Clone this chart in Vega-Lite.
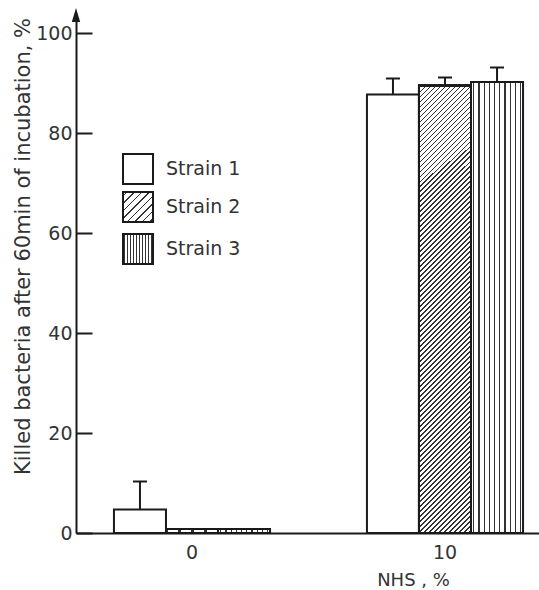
{
  "$schema": "https://vega.github.io/schema/vega-lite/v6.json",
  "autosize": {"type": "none"},
  "padding": {"left": 76, "top": 20, "right": 0, "bottom": 57},
  "width": 485,
  "height": 513,
  "background": "white",
  "config": {
    "view": {"stroke": null},
    "font": "DejaVu Sans",
    "axis": {"grid": false, "domainColor": "#1a1a1a", "domainWidth": 2, "tickColor": "#1a1a1a", "labelColor": "#333", "titleColor": "#333", "labelFont": "DejaVu Sans", "titleFont": "DejaVu Sans", "titleFontWeight": "normal"},
    "legend": {"labelFont": "DejaVu Sans", "labelColor": "#333", "labelFontSize": 19, "labelOffset": 12, "padding": 0, "symbolType": "square", "symbolSize": 900, "symbolStrokeColor": "#1a1a1a", "symbolStrokeWidth": 2, "symbolOpacity": 1}
  },
  "data": {"values": [
    {"nhs": "0", "strain": "Strain 1", "value": 4.7, "upper": 10.3},
    {"nhs": "0", "strain": "Strain 2", "value": 0.8, "upper": null},
    {"nhs": "0", "strain": "Strain 3", "value": 0.8, "upper": null},
    {"nhs": "10", "strain": "Strain 1", "value": 87.7, "upper": 90.9},
    {"nhs": "10", "strain": "Strain 2", "value": 89.5, "upper": 91.1},
    {"nhs": "10", "strain": "Strain 3", "value": 90.2, "upper": 93.1}
  ]},
  "layer": [
    {
      "encoding": {
        "x": {"field": "nhs", "type": "nominal", "scale": {"type": "band", "paddingInner": 0.383, "paddingOuter": 0.15},
          "axis": {"ticks": false, "labelAngle": 0, "labelFontSize": 19, "labelPadding": 10, "title": "NHS , %", "titleFontSize": 18, "titleX": 337, "titleY": 38}},
        "xOffset": {"field": "strain", "type": "nominal", "scale": {"domain": ["Strain 1", "Strain 2", "Strain 3"], "paddingInner": 0, "paddingOuter": 0}}
      },
      "layer": [
        {
          "transform": [{"filter": "datum.strain == 'Strain 1'"}],
          "mark": {"type": "bar", "fill": "#ffffff", "strokeWidth": 2},
          "encoding": {
            "y": {"field": "value", "type": "quantitative", "title": "Killed bacteria after 60min of incubation, %",
              "scale": {"domain": [0, 102.6], "nice": false},
              "axis": {"values": [0, 20, 40, 60, 80, 100], "tickSize": -16, "tickWidth": 2, "labelPadding": 20, "labelFontSize": 19, "titleFontSize": 21, "titleX": -47, "titleY": 226, "titleBaseline": "alphabetic", "titleAlign": "center", "titleAngle": -90}},
            "stroke": {"field": "strain", "type": "nominal", "scale": {"range": ["#1a1a1a"]},
              "legend": {"title": null, "orient": "none", "legendX": 46, "legendY": 133}}
          }
        },
        {
          "transform": [{"filter": "datum.strain == 'Strain 2' && datum.nhs == '0'"}],
          "mark": {"type": "bar", "strokeWidth": 2, "fill": {"gradient": "linear", "x1": 0, "y1": 0, "x2": 1, "y2": 1, "stops": [
            {"offset": 0, "color": "#fff"}, {"offset": 0.05, "color": "#fff"}, {"offset": 0.05, "color": "#333"}, {"offset": 0.08, "color": "#333"}, {"offset": 0.08, "color": "#fff"},
            {"offset": 0.175, "color": "#fff"}, {"offset": 0.175, "color": "#333"}, {"offset": 0.205, "color": "#333"}, {"offset": 0.205, "color": "#fff"},
            {"offset": 0.3, "color": "#fff"}, {"offset": 0.3, "color": "#333"}, {"offset": 0.33, "color": "#333"}, {"offset": 0.33, "color": "#fff"},
            {"offset": 0.425, "color": "#fff"}, {"offset": 0.425, "color": "#333"}, {"offset": 0.455, "color": "#333"}, {"offset": 0.455, "color": "#fff"},
            {"offset": 0.55, "color": "#fff"}, {"offset": 0.55, "color": "#333"}, {"offset": 0.58, "color": "#333"}, {"offset": 0.58, "color": "#fff"},
            {"offset": 0.675, "color": "#fff"}, {"offset": 0.675, "color": "#333"}, {"offset": 0.705, "color": "#333"}, {"offset": 0.705, "color": "#fff"},
            {"offset": 0.8, "color": "#fff"}, {"offset": 0.8, "color": "#333"}, {"offset": 0.83, "color": "#333"}, {"offset": 0.83, "color": "#fff"},
            {"offset": 0.925, "color": "#fff"}, {"offset": 0.925, "color": "#333"}, {"offset": 0.955, "color": "#333"}, {"offset": 0.955, "color": "#fff"},
            {"offset": 1, "color": "#fff"}
          ]}},
          "encoding": {
            "y": {"field": "value", "type": "quantitative", "title": "Killed bacteria after 60min of incubation, %"},
            "stroke": {"field": "strain", "type": "nominal", "scale": {"range": ["#1a1a1a"]},
              "legend": {"title": null, "orient": "none", "legendX": 46, "legendY": 171}}
          }
        },
        {
          "transform": [{"filter": "datum.strain == 'Strain 2' && datum.nhs == '10'"}],
          "mark": {"type": "bar", "fill": "#ffffff", "stroke": "#1a1a1a", "strokeWidth": 2},
          "encoding": {
            "y": {"field": "value", "type": "quantitative", "title": "Killed bacteria after 60min of incubation, %"}
          }
        },
        {
          "transform": [{"filter": "datum.strain == 'Strain 2' && datum.nhs == '10'"}],
          "mark": {"type": "bar", "stroke": "#1a1a1a", "strokeWidth": 2, "fill": {"gradient": "linear", "x1": 0, "y1": 0, "x2": 0.032, "y2": 0.2753, "stops": [
            {"offset":0,"color":"rgba(0,0,0,0)"},{"offset":0.013,"color":"rgba(0,0,0,0)"},{"offset":0.013,"color":"#333"},{"offset":0.027,"color":"#333"},{"offset":0.027,"color":"rgba(0,0,0,0)"},
            {"offset":0.053,"color":"rgba(0,0,0,0)"},{"offset":0.053,"color":"#333"},{"offset":0.067,"color":"#333"},{"offset":0.067,"color":"rgba(0,0,0,0)"},
            {"offset":0.093,"color":"rgba(0,0,0,0)"},{"offset":0.093,"color":"#333"},{"offset":0.107,"color":"#333"},{"offset":0.107,"color":"rgba(0,0,0,0)"},
            {"offset":0.133,"color":"rgba(0,0,0,0)"},{"offset":0.133,"color":"#333"},{"offset":0.147,"color":"#333"},{"offset":0.147,"color":"rgba(0,0,0,0)"},
            {"offset":0.173,"color":"rgba(0,0,0,0)"},{"offset":0.173,"color":"#333"},{"offset":0.187,"color":"#333"},{"offset":0.187,"color":"rgba(0,0,0,0)"},
            {"offset":0.213,"color":"rgba(0,0,0,0)"},{"offset":0.213,"color":"#333"},{"offset":0.227,"color":"#333"},{"offset":0.227,"color":"rgba(0,0,0,0)"},
            {"offset":0.253,"color":"rgba(0,0,0,0)"},{"offset":0.253,"color":"#333"},{"offset":0.267,"color":"#333"},{"offset":0.267,"color":"rgba(0,0,0,0)"},
            {"offset":0.293,"color":"rgba(0,0,0,0)"},{"offset":0.293,"color":"#333"},{"offset":0.307,"color":"#333"},{"offset":0.307,"color":"rgba(0,0,0,0)"},
            {"offset":0.333,"color":"rgba(0,0,0,0)"},{"offset":0.333,"color":"#333"},{"offset":0.347,"color":"#333"},{"offset":0.347,"color":"rgba(0,0,0,0)"},
            {"offset":0.373,"color":"rgba(0,0,0,0)"},{"offset":0.373,"color":"#333"},{"offset":0.387,"color":"#333"},{"offset":0.387,"color":"rgba(0,0,0,0)"},
            {"offset":0.413,"color":"rgba(0,0,0,0)"},{"offset":0.413,"color":"#333"},{"offset":0.427,"color":"#333"},{"offset":0.427,"color":"rgba(0,0,0,0)"},
            {"offset":0.453,"color":"rgba(0,0,0,0)"},{"offset":0.453,"color":"#333"},{"offset":0.467,"color":"#333"},{"offset":0.467,"color":"rgba(0,0,0,0)"},
            {"offset":0.493,"color":"rgba(0,0,0,0)"},{"offset":0.493,"color":"#333"},{"offset":0.507,"color":"#333"},{"offset":0.507,"color":"rgba(0,0,0,0)"},
            {"offset":0.533,"color":"rgba(0,0,0,0)"},{"offset":0.533,"color":"#333"},{"offset":0.547,"color":"#333"},{"offset":0.547,"color":"rgba(0,0,0,0)"},
            {"offset":0.573,"color":"rgba(0,0,0,0)"},{"offset":0.573,"color":"#333"},{"offset":0.587,"color":"#333"},{"offset":0.587,"color":"rgba(0,0,0,0)"},
            {"offset":0.613,"color":"rgba(0,0,0,0)"},{"offset":0.613,"color":"#333"},{"offset":0.627,"color":"#333"},{"offset":0.627,"color":"rgba(0,0,0,0)"},
            {"offset":0.653,"color":"rgba(0,0,0,0)"},{"offset":0.653,"color":"#333"},{"offset":0.667,"color":"#333"},{"offset":0.667,"color":"rgba(0,0,0,0)"},
            {"offset":0.693,"color":"rgba(0,0,0,0)"},{"offset":0.693,"color":"#333"},{"offset":0.707,"color":"#333"},{"offset":0.707,"color":"rgba(0,0,0,0)"},
            {"offset":0.733,"color":"rgba(0,0,0,0)"},{"offset":0.733,"color":"#333"},{"offset":0.747,"color":"#333"},{"offset":0.747,"color":"rgba(0,0,0,0)"},
            {"offset":0.773,"color":"rgba(0,0,0,0)"},{"offset":0.773,"color":"#333"},{"offset":0.787,"color":"#333"},{"offset":0.787,"color":"rgba(0,0,0,0)"},
            {"offset":0.813,"color":"rgba(0,0,0,0)"},{"offset":0.813,"color":"#333"},{"offset":0.827,"color":"#333"},{"offset":0.827,"color":"rgba(0,0,0,0)"},
            {"offset":0.853,"color":"rgba(0,0,0,0)"},{"offset":0.853,"color":"#333"},{"offset":0.867,"color":"#333"},{"offset":0.867,"color":"rgba(0,0,0,0)"},
            {"offset":0.893,"color":"rgba(0,0,0,0)"},{"offset":0.893,"color":"#333"},{"offset":0.907,"color":"#333"},{"offset":0.907,"color":"rgba(0,0,0,0)"},
            {"offset":0.933,"color":"rgba(0,0,0,0)"},{"offset":0.933,"color":"#333"},{"offset":0.947,"color":"#333"},{"offset":0.947,"color":"rgba(0,0,0,0)"},
            {"offset":0.973,"color":"rgba(0,0,0,0)"},{"offset":0.973,"color":"#333"},{"offset":0.987,"color":"#333"},{"offset":0.987,"color":"rgba(0,0,0,0)"},
            {"offset":1,"color":"rgba(0,0,0,0)"}
          ]}},
          "encoding": {
            "y": {"field": "value", "type": "quantitative", "title": "Killed bacteria after 60min of incubation, %"}
          }
        },
        {
          "transform": [{"filter": "datum.strain == 'Strain 2' && datum.nhs == '10'"}],
          "mark": {"type": "bar", "stroke": "#1a1a1a", "strokeWidth": 2, "fill": {"gradient": "linear", "x1": 0.032, "y1": 0.2753, "x2": 0.064, "y2": 0.5507, "stops": [
            {"offset":0,"color":"rgba(0,0,0,0)"},{"offset":0.013,"color":"rgba(0,0,0,0)"},{"offset":0.013,"color":"#333"},{"offset":0.027,"color":"#333"},{"offset":0.027,"color":"rgba(0,0,0,0)"},
            {"offset":0.053,"color":"rgba(0,0,0,0)"},{"offset":0.053,"color":"#333"},{"offset":0.067,"color":"#333"},{"offset":0.067,"color":"rgba(0,0,0,0)"},
            {"offset":0.093,"color":"rgba(0,0,0,0)"},{"offset":0.093,"color":"#333"},{"offset":0.107,"color":"#333"},{"offset":0.107,"color":"rgba(0,0,0,0)"},
            {"offset":0.133,"color":"rgba(0,0,0,0)"},{"offset":0.133,"color":"#333"},{"offset":0.147,"color":"#333"},{"offset":0.147,"color":"rgba(0,0,0,0)"},
            {"offset":0.173,"color":"rgba(0,0,0,0)"},{"offset":0.173,"color":"#333"},{"offset":0.187,"color":"#333"},{"offset":0.187,"color":"rgba(0,0,0,0)"},
            {"offset":0.213,"color":"rgba(0,0,0,0)"},{"offset":0.213,"color":"#333"},{"offset":0.227,"color":"#333"},{"offset":0.227,"color":"rgba(0,0,0,0)"},
            {"offset":0.253,"color":"rgba(0,0,0,0)"},{"offset":0.253,"color":"#333"},{"offset":0.267,"color":"#333"},{"offset":0.267,"color":"rgba(0,0,0,0)"},
            {"offset":0.293,"color":"rgba(0,0,0,0)"},{"offset":0.293,"color":"#333"},{"offset":0.307,"color":"#333"},{"offset":0.307,"color":"rgba(0,0,0,0)"},
            {"offset":0.333,"color":"rgba(0,0,0,0)"},{"offset":0.333,"color":"#333"},{"offset":0.347,"color":"#333"},{"offset":0.347,"color":"rgba(0,0,0,0)"},
            {"offset":0.373,"color":"rgba(0,0,0,0)"},{"offset":0.373,"color":"#333"},{"offset":0.387,"color":"#333"},{"offset":0.387,"color":"rgba(0,0,0,0)"},
            {"offset":0.413,"color":"rgba(0,0,0,0)"},{"offset":0.413,"color":"#333"},{"offset":0.427,"color":"#333"},{"offset":0.427,"color":"rgba(0,0,0,0)"},
            {"offset":0.453,"color":"rgba(0,0,0,0)"},{"offset":0.453,"color":"#333"},{"offset":0.467,"color":"#333"},{"offset":0.467,"color":"rgba(0,0,0,0)"},
            {"offset":0.493,"color":"rgba(0,0,0,0)"},{"offset":0.493,"color":"#333"},{"offset":0.507,"color":"#333"},{"offset":0.507,"color":"rgba(0,0,0,0)"},
            {"offset":0.533,"color":"rgba(0,0,0,0)"},{"offset":0.533,"color":"#333"},{"offset":0.547,"color":"#333"},{"offset":0.547,"color":"rgba(0,0,0,0)"},
            {"offset":0.573,"color":"rgba(0,0,0,0)"},{"offset":0.573,"color":"#333"},{"offset":0.587,"color":"#333"},{"offset":0.587,"color":"rgba(0,0,0,0)"},
            {"offset":0.613,"color":"rgba(0,0,0,0)"},{"offset":0.613,"color":"#333"},{"offset":0.627,"color":"#333"},{"offset":0.627,"color":"rgba(0,0,0,0)"},
            {"offset":0.653,"color":"rgba(0,0,0,0)"},{"offset":0.653,"color":"#333"},{"offset":0.667,"color":"#333"},{"offset":0.667,"color":"rgba(0,0,0,0)"},
            {"offset":0.693,"color":"rgba(0,0,0,0)"},{"offset":0.693,"color":"#333"},{"offset":0.707,"color":"#333"},{"offset":0.707,"color":"rgba(0,0,0,0)"},
            {"offset":0.733,"color":"rgba(0,0,0,0)"},{"offset":0.733,"color":"#333"},{"offset":0.747,"color":"#333"},{"offset":0.747,"color":"rgba(0,0,0,0)"},
            {"offset":0.773,"color":"rgba(0,0,0,0)"},{"offset":0.773,"color":"#333"},{"offset":0.787,"color":"#333"},{"offset":0.787,"color":"rgba(0,0,0,0)"},
            {"offset":0.813,"color":"rgba(0,0,0,0)"},{"offset":0.813,"color":"#333"},{"offset":0.827,"color":"#333"},{"offset":0.827,"color":"rgba(0,0,0,0)"},
            {"offset":0.853,"color":"rgba(0,0,0,0)"},{"offset":0.853,"color":"#333"},{"offset":0.867,"color":"#333"},{"offset":0.867,"color":"rgba(0,0,0,0)"},
            {"offset":0.893,"color":"rgba(0,0,0,0)"},{"offset":0.893,"color":"#333"},{"offset":0.907,"color":"#333"},{"offset":0.907,"color":"rgba(0,0,0,0)"},
            {"offset":0.933,"color":"rgba(0,0,0,0)"},{"offset":0.933,"color":"#333"},{"offset":0.947,"color":"#333"},{"offset":0.947,"color":"rgba(0,0,0,0)"},
            {"offset":0.973,"color":"rgba(0,0,0,0)"},{"offset":0.973,"color":"#333"},{"offset":0.987,"color":"#333"},{"offset":0.987,"color":"rgba(0,0,0,0)"},
            {"offset":1,"color":"rgba(0,0,0,0)"}
          ]}},
          "encoding": {
            "y": {"field": "value", "type": "quantitative", "title": "Killed bacteria after 60min of incubation, %"}
          }
        },
        {
          "transform": [{"filter": "datum.strain == 'Strain 2' && datum.nhs == '10'"}],
          "mark": {"type": "bar", "stroke": "#1a1a1a", "strokeWidth": 2, "fill": {"gradient": "linear", "x1": 0.064, "y1": 0.5507, "x2": 0.096, "y2": 0.826, "stops": [
            {"offset":0,"color":"rgba(0,0,0,0)"},{"offset":0.013,"color":"rgba(0,0,0,0)"},{"offset":0.013,"color":"#333"},{"offset":0.027,"color":"#333"},{"offset":0.027,"color":"rgba(0,0,0,0)"},
            {"offset":0.053,"color":"rgba(0,0,0,0)"},{"offset":0.053,"color":"#333"},{"offset":0.067,"color":"#333"},{"offset":0.067,"color":"rgba(0,0,0,0)"},
            {"offset":0.093,"color":"rgba(0,0,0,0)"},{"offset":0.093,"color":"#333"},{"offset":0.107,"color":"#333"},{"offset":0.107,"color":"rgba(0,0,0,0)"},
            {"offset":0.133,"color":"rgba(0,0,0,0)"},{"offset":0.133,"color":"#333"},{"offset":0.147,"color":"#333"},{"offset":0.147,"color":"rgba(0,0,0,0)"},
            {"offset":0.173,"color":"rgba(0,0,0,0)"},{"offset":0.173,"color":"#333"},{"offset":0.187,"color":"#333"},{"offset":0.187,"color":"rgba(0,0,0,0)"},
            {"offset":0.213,"color":"rgba(0,0,0,0)"},{"offset":0.213,"color":"#333"},{"offset":0.227,"color":"#333"},{"offset":0.227,"color":"rgba(0,0,0,0)"},
            {"offset":0.253,"color":"rgba(0,0,0,0)"},{"offset":0.253,"color":"#333"},{"offset":0.267,"color":"#333"},{"offset":0.267,"color":"rgba(0,0,0,0)"},
            {"offset":0.293,"color":"rgba(0,0,0,0)"},{"offset":0.293,"color":"#333"},{"offset":0.307,"color":"#333"},{"offset":0.307,"color":"rgba(0,0,0,0)"},
            {"offset":0.333,"color":"rgba(0,0,0,0)"},{"offset":0.333,"color":"#333"},{"offset":0.347,"color":"#333"},{"offset":0.347,"color":"rgba(0,0,0,0)"},
            {"offset":0.373,"color":"rgba(0,0,0,0)"},{"offset":0.373,"color":"#333"},{"offset":0.387,"color":"#333"},{"offset":0.387,"color":"rgba(0,0,0,0)"},
            {"offset":0.413,"color":"rgba(0,0,0,0)"},{"offset":0.413,"color":"#333"},{"offset":0.427,"color":"#333"},{"offset":0.427,"color":"rgba(0,0,0,0)"},
            {"offset":0.453,"color":"rgba(0,0,0,0)"},{"offset":0.453,"color":"#333"},{"offset":0.467,"color":"#333"},{"offset":0.467,"color":"rgba(0,0,0,0)"},
            {"offset":0.493,"color":"rgba(0,0,0,0)"},{"offset":0.493,"color":"#333"},{"offset":0.507,"color":"#333"},{"offset":0.507,"color":"rgba(0,0,0,0)"},
            {"offset":0.533,"color":"rgba(0,0,0,0)"},{"offset":0.533,"color":"#333"},{"offset":0.547,"color":"#333"},{"offset":0.547,"color":"rgba(0,0,0,0)"},
            {"offset":0.573,"color":"rgba(0,0,0,0)"},{"offset":0.573,"color":"#333"},{"offset":0.587,"color":"#333"},{"offset":0.587,"color":"rgba(0,0,0,0)"},
            {"offset":0.613,"color":"rgba(0,0,0,0)"},{"offset":0.613,"color":"#333"},{"offset":0.627,"color":"#333"},{"offset":0.627,"color":"rgba(0,0,0,0)"},
            {"offset":0.653,"color":"rgba(0,0,0,0)"},{"offset":0.653,"color":"#333"},{"offset":0.667,"color":"#333"},{"offset":0.667,"color":"rgba(0,0,0,0)"},
            {"offset":0.693,"color":"rgba(0,0,0,0)"},{"offset":0.693,"color":"#333"},{"offset":0.707,"color":"#333"},{"offset":0.707,"color":"rgba(0,0,0,0)"},
            {"offset":0.733,"color":"rgba(0,0,0,0)"},{"offset":0.733,"color":"#333"},{"offset":0.747,"color":"#333"},{"offset":0.747,"color":"rgba(0,0,0,0)"},
            {"offset":0.773,"color":"rgba(0,0,0,0)"},{"offset":0.773,"color":"#333"},{"offset":0.787,"color":"#333"},{"offset":0.787,"color":"rgba(0,0,0,0)"},
            {"offset":0.813,"color":"rgba(0,0,0,0)"},{"offset":0.813,"color":"#333"},{"offset":0.827,"color":"#333"},{"offset":0.827,"color":"rgba(0,0,0,0)"},
            {"offset":0.853,"color":"rgba(0,0,0,0)"},{"offset":0.853,"color":"#333"},{"offset":0.867,"color":"#333"},{"offset":0.867,"color":"rgba(0,0,0,0)"},
            {"offset":0.893,"color":"rgba(0,0,0,0)"},{"offset":0.893,"color":"#333"},{"offset":0.907,"color":"#333"},{"offset":0.907,"color":"rgba(0,0,0,0)"},
            {"offset":0.933,"color":"rgba(0,0,0,0)"},{"offset":0.933,"color":"#333"},{"offset":0.947,"color":"#333"},{"offset":0.947,"color":"rgba(0,0,0,0)"},
            {"offset":0.973,"color":"rgba(0,0,0,0)"},{"offset":0.973,"color":"#333"},{"offset":0.987,"color":"#333"},{"offset":0.987,"color":"rgba(0,0,0,0)"},
            {"offset":1,"color":"rgba(0,0,0,0)"}
          ]}},
          "encoding": {
            "y": {"field": "value", "type": "quantitative", "title": "Killed bacteria after 60min of incubation, %"}
          }
        },
        {
          "transform": [{"filter": "datum.strain == 'Strain 2' && datum.nhs == '10'"}],
          "mark": {"type": "bar", "stroke": "#1a1a1a", "strokeWidth": 2, "fill": {"gradient": "linear", "x1": 0.096, "y1": 0.826, "x2": 0.128, "y2": 1.1013, "stops": [
            {"offset":0,"color":"rgba(0,0,0,0)"},{"offset":0.013,"color":"rgba(0,0,0,0)"},{"offset":0.013,"color":"#333"},{"offset":0.027,"color":"#333"},{"offset":0.027,"color":"rgba(0,0,0,0)"},
            {"offset":0.053,"color":"rgba(0,0,0,0)"},{"offset":0.053,"color":"#333"},{"offset":0.067,"color":"#333"},{"offset":0.067,"color":"rgba(0,0,0,0)"},
            {"offset":0.093,"color":"rgba(0,0,0,0)"},{"offset":0.093,"color":"#333"},{"offset":0.107,"color":"#333"},{"offset":0.107,"color":"rgba(0,0,0,0)"},
            {"offset":0.133,"color":"rgba(0,0,0,0)"},{"offset":0.133,"color":"#333"},{"offset":0.147,"color":"#333"},{"offset":0.147,"color":"rgba(0,0,0,0)"},
            {"offset":0.173,"color":"rgba(0,0,0,0)"},{"offset":0.173,"color":"#333"},{"offset":0.187,"color":"#333"},{"offset":0.187,"color":"rgba(0,0,0,0)"},
            {"offset":0.213,"color":"rgba(0,0,0,0)"},{"offset":0.213,"color":"#333"},{"offset":0.227,"color":"#333"},{"offset":0.227,"color":"rgba(0,0,0,0)"},
            {"offset":0.253,"color":"rgba(0,0,0,0)"},{"offset":0.253,"color":"#333"},{"offset":0.267,"color":"#333"},{"offset":0.267,"color":"rgba(0,0,0,0)"},
            {"offset":0.293,"color":"rgba(0,0,0,0)"},{"offset":0.293,"color":"#333"},{"offset":0.307,"color":"#333"},{"offset":0.307,"color":"rgba(0,0,0,0)"},
            {"offset":0.333,"color":"rgba(0,0,0,0)"},{"offset":0.333,"color":"#333"},{"offset":0.347,"color":"#333"},{"offset":0.347,"color":"rgba(0,0,0,0)"},
            {"offset":0.373,"color":"rgba(0,0,0,0)"},{"offset":0.373,"color":"#333"},{"offset":0.387,"color":"#333"},{"offset":0.387,"color":"rgba(0,0,0,0)"},
            {"offset":0.413,"color":"rgba(0,0,0,0)"},{"offset":0.413,"color":"#333"},{"offset":0.427,"color":"#333"},{"offset":0.427,"color":"rgba(0,0,0,0)"},
            {"offset":0.453,"color":"rgba(0,0,0,0)"},{"offset":0.453,"color":"#333"},{"offset":0.467,"color":"#333"},{"offset":0.467,"color":"rgba(0,0,0,0)"},
            {"offset":0.493,"color":"rgba(0,0,0,0)"},{"offset":0.493,"color":"#333"},{"offset":0.507,"color":"#333"},{"offset":0.507,"color":"rgba(0,0,0,0)"},
            {"offset":0.533,"color":"rgba(0,0,0,0)"},{"offset":0.533,"color":"#333"},{"offset":0.547,"color":"#333"},{"offset":0.547,"color":"rgba(0,0,0,0)"},
            {"offset":0.573,"color":"rgba(0,0,0,0)"},{"offset":0.573,"color":"#333"},{"offset":0.587,"color":"#333"},{"offset":0.587,"color":"rgba(0,0,0,0)"},
            {"offset":0.613,"color":"rgba(0,0,0,0)"},{"offset":0.613,"color":"#333"},{"offset":0.627,"color":"#333"},{"offset":0.627,"color":"rgba(0,0,0,0)"},
            {"offset":0.653,"color":"rgba(0,0,0,0)"},{"offset":0.653,"color":"#333"},{"offset":0.667,"color":"#333"},{"offset":0.667,"color":"rgba(0,0,0,0)"},
            {"offset":0.693,"color":"rgba(0,0,0,0)"},{"offset":0.693,"color":"#333"},{"offset":0.707,"color":"#333"},{"offset":0.707,"color":"rgba(0,0,0,0)"},
            {"offset":0.733,"color":"rgba(0,0,0,0)"},{"offset":0.733,"color":"#333"},{"offset":0.747,"color":"#333"},{"offset":0.747,"color":"rgba(0,0,0,0)"},
            {"offset":0.773,"color":"rgba(0,0,0,0)"},{"offset":0.773,"color":"#333"},{"offset":0.787,"color":"#333"},{"offset":0.787,"color":"rgba(0,0,0,0)"},
            {"offset":0.813,"color":"rgba(0,0,0,0)"},{"offset":0.813,"color":"#333"},{"offset":0.827,"color":"#333"},{"offset":0.827,"color":"rgba(0,0,0,0)"},
            {"offset":0.853,"color":"rgba(0,0,0,0)"},{"offset":0.853,"color":"#333"},{"offset":0.867,"color":"#333"},{"offset":0.867,"color":"rgba(0,0,0,0)"},
            {"offset":0.893,"color":"rgba(0,0,0,0)"},{"offset":0.893,"color":"#333"},{"offset":0.907,"color":"#333"},{"offset":0.907,"color":"rgba(0,0,0,0)"},
            {"offset":0.933,"color":"rgba(0,0,0,0)"},{"offset":0.933,"color":"#333"},{"offset":0.947,"color":"#333"},{"offset":0.947,"color":"rgba(0,0,0,0)"},
            {"offset":0.973,"color":"rgba(0,0,0,0)"},{"offset":0.973,"color":"#333"},{"offset":0.987,"color":"#333"},{"offset":0.987,"color":"rgba(0,0,0,0)"},
            {"offset":1,"color":"rgba(0,0,0,0)"}
          ]}},
          "encoding": {
            "y": {"field": "value", "type": "quantitative", "title": "Killed bacteria after 60min of incubation, %"}
          }
        },
        {
          "transform": [{"filter": "datum.strain == 'Strain 3'"}],
          "mark": {"type": "bar", "strokeWidth": 2, "fill": {"gradient": "linear", "x1": 0, "y1": 0, "x2": 1, "y2": 0, "stops": [
            {"offset": 0, "color": "#fff"}, {"offset": 0.04, "color": "#fff"}, {"offset": 0.04, "color": "#333"}, {"offset": 0.065, "color": "#333"}, {"offset": 0.065, "color": "#fff"},
            {"offset": 0.14, "color": "#fff"}, {"offset": 0.14, "color": "#333"}, {"offset": 0.165, "color": "#333"}, {"offset": 0.165, "color": "#fff"},
            {"offset": 0.24, "color": "#fff"}, {"offset": 0.24, "color": "#333"}, {"offset": 0.265, "color": "#333"}, {"offset": 0.265, "color": "#fff"},
            {"offset": 0.34, "color": "#fff"}, {"offset": 0.34, "color": "#333"}, {"offset": 0.365, "color": "#333"}, {"offset": 0.365, "color": "#fff"},
            {"offset": 0.44, "color": "#fff"}, {"offset": 0.44, "color": "#333"}, {"offset": 0.465, "color": "#333"}, {"offset": 0.465, "color": "#fff"},
            {"offset": 0.54, "color": "#fff"}, {"offset": 0.54, "color": "#333"}, {"offset": 0.565, "color": "#333"}, {"offset": 0.565, "color": "#fff"},
            {"offset": 0.64, "color": "#fff"}, {"offset": 0.64, "color": "#333"}, {"offset": 0.665, "color": "#333"}, {"offset": 0.665, "color": "#fff"},
            {"offset": 0.74, "color": "#fff"}, {"offset": 0.74, "color": "#333"}, {"offset": 0.765, "color": "#333"}, {"offset": 0.765, "color": "#fff"},
            {"offset": 0.84, "color": "#fff"}, {"offset": 0.84, "color": "#333"}, {"offset": 0.865, "color": "#333"}, {"offset": 0.865, "color": "#fff"},
            {"offset": 0.94, "color": "#fff"}, {"offset": 0.94, "color": "#333"}, {"offset": 0.965, "color": "#333"}, {"offset": 0.965, "color": "#fff"},
            {"offset": 1, "color": "#fff"}
          ]}},
          "encoding": {
            "y": {"field": "value", "type": "quantitative", "title": "Killed bacteria after 60min of incubation, %"},
            "stroke": {"field": "strain", "type": "nominal", "scale": {"range": ["#1a1a1a"]},
              "legend": {"title": null, "orient": "none", "legendX": 46, "legendY": 213}}
          }
        },
        {
          "transform": [{"filter": "datum.upper != null"}],
          "mark": {"type": "rule", "color": "#1a1a1a", "strokeWidth": 2},
          "encoding": {
            "y": {"field": "value", "type": "quantitative", "title": "Killed bacteria after 60min of incubation, %"},
            "y2": {"field": "upper"}
          }
        },
        {
          "transform": [{"filter": "datum.upper != null"}],
          "mark": {"type": "tick", "color": "#1a1a1a", "thickness": 2, "size": 14, "opacity": 1},
          "encoding": {
            "y": {"field": "upper", "type": "quantitative", "title": "Killed bacteria after 60min of incubation, %"}
          }
        }
      ],
      "resolve": {"scale": {"stroke": "independent"}, "legend": {"stroke": "independent"}}
    },
    {
      "data": {"values": [{"part": "axis arrow"}]},
      "mark": {"type": "point", "shape": "M-0.6,1L0.6,1L0,-1Z", "filled": true, "color": "#1a1a1a", "size": 196, "opacity": 1},
      "encoding": {
        "x": {"datum": 0, "type": "quantitative", "scale": {"domain": [0, 1], "nice": false}, "axis": null},
        "y": {"datum": 103.6, "type": "quantitative", "scale": {"domain": [0, 102.6], "nice": false}, "axis": null}
      }
    }
  ],
  "resolve": {"scale": {"x": "independent", "y": "independent"}}
}
